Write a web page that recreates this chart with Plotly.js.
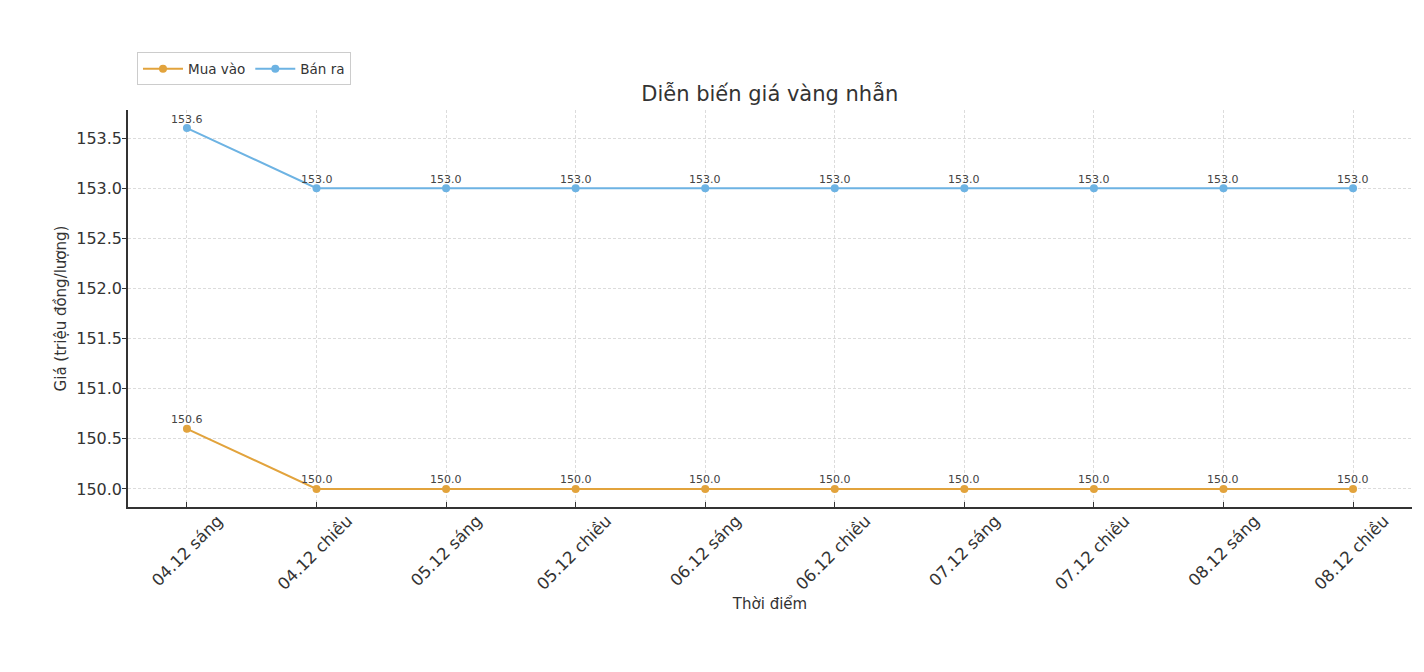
<!DOCTYPE html>
<html>
<head>
<meta charset="utf-8">
<script src="https://cdn.plot.ly/plotly-3.0.1.min.js"></script>
<style>
  html, body { margin: 0; padding: 0; background: #fff; }
  #chart { width: 1424px; height: 672px; }
</style>
</head>
<body>
<div id="chart"></div>
<script>
// time slots (x axis)
const categories = [
  "04.12 sáng", "04.12 chiều", "05.12 sáng", "05.12 chiều", "06.12 sáng",
  "06.12 chiều", "07.12 sáng", "07.12 chiều", "08.12 sáng", "08.12 chiều"
];

// prices, million VND per tael
const muaVao = [150.6, 150.0, 150.0, 150.0, 150.0, 150.0, 150.0, 150.0, 150.0, 150.0];
const banRa  = [153.6, 153.0, 153.0, 153.0, 153.0, 153.0, 153.0, 153.0, 153.0, 153.0];

const yTicks = [150.0, 150.5, 151.0, 151.5, 152.0, 152.5, 153.0, 153.5];

const FONT = "DejaVu Sans, Verdana, sans-serif";
const xIdx = categories.map((_, i) => i);

function series(name, values, color) {
  return {
    x: xIdx,
    y: values,
    name: name,
    mode: "lines+markers",
    line: { color: color, width: 2 },
    marker: { color: color, size: 8 },
    cliponaxis: false,
    hoverinfo: "x+y"
  };
}

const traces = [
  series("Mua vào", muaVao, "#E2A33C"),
  series("Bán ra", banRa, "#6DB3E3")
];

// value labels just above each point
const labels = [];
[muaVao, banRa].forEach(vals => {
  vals.forEach((v, i) => {
    labels.push({
      x: i, y: v, xref: "x", yref: "y",
      text: v.toFixed(1),
      showarrow: false,
      yanchor: "middle",
      yshift: 9,
      font: { family: FONT, size: 11, color: "#444" }
    });
  });
});

const gridStyle = { showgrid: true, gridcolor: "#dcdcdc", gridwidth: 0.8, griddash: "3px,2px" };

const layout = {
  width: 1424,
  height: 672,
  paper_bgcolor: "#fff",
  plot_bgcolor: "#fff",
  font: { family: FONT, color: "#333" },
  margin: { l: 128, r: 12, t: 110, b: 165 },
  title: {
    text: "Diễn biến giá vàng nhẫn",
    font: { family: FONT, size: 21, color: "#333" },
    x: 0.5406, xanchor: "center",
    y: 0.86, yanchor: "middle"
  },
  showlegend: true,
  legend: {
    orientation: "h",
    x: 0.007, xanchor: "left",
    y: 1.062, yanchor: "bottom",
    bordercolor: "#ccc",
    borderwidth: 1,
    font: { family: FONT, size: 13.5, color: "#333" },
    itemwidth: 40,
    tracegroupgap: 0
  },
  annotations: labels,
  xaxis: Object.assign({
    range: [-0.455, 9.455],
    tickvals: xIdx,
    ticktext: categories,
    tickangle: -45,
    tickfont: { family: FONT, size: 16.5, color: "#333" },
    ticklabelshift: 31,
    ticklabelstandoff: -4,
    ticks: "inside",
    ticklen: 5,
    tickcolor: "#333",
    showline: true,
    linecolor: "#333",
    linewidth: 1.5,
    zeroline: false,
    title: { text: "Thời điểm", font: { family: FONT, size: 15, color: "#333" }, standoff: 6 }
  }, gridStyle),
  yaxis: Object.assign({
    range: [149.82, 153.78],
    tickvals: yTicks,
    ticktext: yTicks.map(v => v.toFixed(1)),
    tickfont: { family: FONT, size: 16, color: "#333" },
    ticklabelstandoff: -3,
    ticks: "outside",
    ticklen: 4,
    tickcolor: "#333",
    showline: true,
    linecolor: "#333",
    linewidth: 1.5,
    zeroline: false,
    title: { text: "Giá (triệu đồng/lượng)", font: { family: FONT, size: 15, color: "#333" }, standoff: 6 }
  }, gridStyle)
};

Plotly.newPlot("chart", traces, layout, { displayModeBar: false, responsive: false });
</script>
</body>
</html>
